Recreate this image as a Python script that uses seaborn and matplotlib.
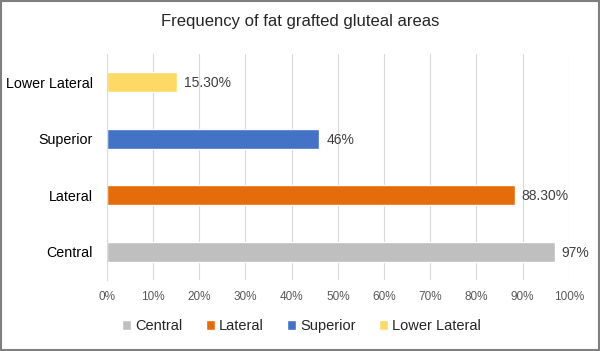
import pandas as pd
import matplotlib.pyplot as plt
import seaborn as sns
from matplotlib.patches import Patch, Rectangle

# data (top to bottom as drawn)
areas = ['Lower Lateral', 'Superior', 'Lateral', 'Central']
freq = [15.3, 46, 88.3, 97]
value_labels = ['15.30%', '46%', '88.30%', '97%']
colors = {'Central': '#BFBFBF', 'Lateral': '#E46C0A', 'Superior': '#4472C4', 'Lower Lateral': '#FFD966'}
legend_order = ['Central', 'Lateral', 'Superior', 'Lower Lateral']

df = pd.DataFrame({'area': areas, 'freq': freq})

sns.set_style('white')
plt.rcParams['font.family'] = ['Liberation Sans', 'DejaVu Sans']

fig = plt.figure(figsize=(6, 3.51), dpi=100)
ax = fig.add_axes([0.178, 0.2023, 0.77, 0.644])

sns.barplot(data=df, x='freq', y='area', hue='area', palette=colors, order=areas,
            orient='h', width=0.355, saturation=1, legend=False, ax=ax)

# data labels
for i, (v, lab) in enumerate(zip(freq, value_labels)):
    ax.text(v + 1.5, i + 0.02, lab, va='center', ha='left', fontsize=10, color='#404040')

ax.set_xlim(0, 100)
ax.set_ylim(3.5, -0.5)
ax.set_xticks(range(0, 101, 10))
ax.set_xticklabels([f'{t}%' for t in range(0, 101, 10)], fontsize=8.5, color='#595959')
ax.tick_params(axis='x', length=0, pad=8)
ax.tick_params(axis='y', which='major', length=0, labelsize=10.3, labelcolor='black', pad=10)
ax.set_yticks([-0.5, 0.5, 1.5, 2.5, 3.5], minor=True)
ax.tick_params(axis='y', which='minor', length=4, color='#D9D9D9', direction='out')
ax.set_xlabel('')
ax.set_ylabel('')
ax.grid(axis='x', color='#D9D9D9', linewidth=0.8)
ax.set_axisbelow(True)
for s in ['top', 'right', 'bottom']:
    ax.spines[s].set_visible(False)
ax.spines['left'].set_color('#D9D9D9')

fig.text(0.5, 0.94, 'Frequency of fat grafted gluteal areas', ha='center', va='center', fontsize=12)

handles = [Patch(facecolor=colors[c], label=c) for c in legend_order]
fig.legend(handles=handles, loc='center', bbox_to_anchor=(0.503, 0.071), ncol=4, frameon=False,
           fontsize=10.5, handlelength=0.6, handleheight=0.6, handletextpad=0.3, columnspacing=1.6)

# outer border
fig.patches.append(Rectangle((0.002, 0.003), 0.996, 0.994, transform=fig.transFigure,
                             fill=False, edgecolor='#7F7F7F', linewidth=1.5))

fig.savefig('out.png', dpi=100)
